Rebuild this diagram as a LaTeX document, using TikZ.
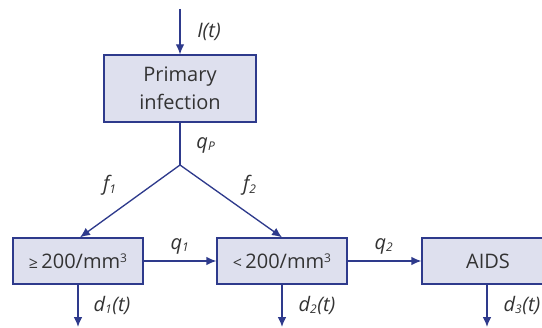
\documentclass[tikz,border=0pt]{standalone}
\usepackage{fontspec}
\setmainfont{Open Sans}
\usetikzlibrary{arrows.meta}
\definecolor{edgeblue}{HTML}{2E3A8C}
\definecolor{boxfill}{HTML}{DEE0EE}
\definecolor{txt}{HTML}{333333}
\tikzset{
  x=0.75pt, y=-0.75pt,
  stage/.style={draw=edgeblue, fill=boxfill, line width=1pt, rectangle, inner sep=0pt,
    text=txt, font=\fontsize{15}{21}\selectfont, align=center},
  flow/.style={draw=edgeblue, line width=1pt, -{Latex[length=7.5pt,width=6.5pt]}},
  plain/.style={draw=edgeblue, line width=1pt},
  lbl/.style={text=txt, font=\fontsize{15}{17}\selectfont\itshape, inner sep=0pt},
}
\newcommand{\sbs}[1]{\textsubscript{\fontsize{9}{9}\selectfont\itshape #1}}
\newcommand{\smallsym}[1]{{\fontsize{12}{12}\selectfont #1}}
\newcommand{\cube}{\raisebox{0.55ex}{\fontsize{9}{9}\selectfont 3}}
\begin{document}
\begin{tikzpicture}
\useasboundingbox (0,0) rectangle (542,328);
\clip (0,0) rectangle (542,328);
\node[stage, minimum width=114pt, minimum height=50.25pt] (prim) at (180,88.5) {Primary\\infection};
\node[stage, minimum width=97.5pt, minimum height=34.5pt] (hi) at (78,261) {\smallsym{≥}\,200/mm\cube};
\node[stage, minimum width=97.5pt, minimum height=34.5pt] (lo) at (282,261) {\smallsym{<}\,200/mm\cube};
\node[stage, minimum width=99pt, minimum height=34.5pt] (aids) at (488,261) {AIDS};
\coordinate (src) at (180,9);
\coordinate (br) at (180,165);
\coordinate (o1) at (78,327);
\coordinate (o2) at (282,327);
\coordinate (o3) at (487,327);
\draw[flow] (src) -- (prim.north);
\draw[plain] (prim.south) -- (br);
\draw[flow] (br) -- (hi.north -| 80,0);
\draw[flow] (br) -- (lo.north -| 282,0);
\draw[flow] (hi.east) -- (lo.west);
\draw[flow] (lo.east) -- (aids.west);
\draw[flow] (hi.south -| o1) -- (o1);
\draw[flow] (lo.south -| o2) -- (o2);
\draw[flow] (aids.south -| o3) -- (o3);
\node[lbl] (lI) at (209,32) {I(t)};
\node[lbl] (lqp) at (206,145) {q\sbs{P}};
\node[lbl] (lf1) at (110,185) {f\sbs{1}};
\node[lbl] (lf2) at (250,185) {f\sbs{2}};
\node[lbl] (lq1) at (180,246) {q\sbs{1}};
\node[lbl] (lq2) at (384,246) {q\sbs{2}};
\node[lbl] (ld1) at (112,305) {d\sbs{1}(t)};
\node[lbl] (ld2) at (317,305) {d\sbs{2}(t)};
\node[lbl] (ld3) at (522,305) {d\sbs{3}(t)};
\end{tikzpicture}
\end{document}
